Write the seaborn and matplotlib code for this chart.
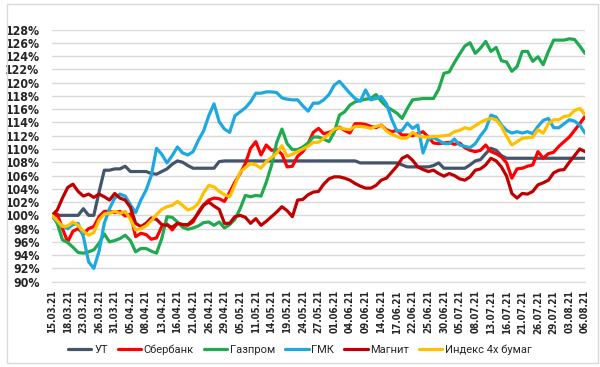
import numpy as np
import pandas as pd
import matplotlib
matplotlib.use("Agg")
import matplotlib.pyplot as plt
from matplotlib.patches import Rectangle
import seaborn as sns

# торговые дни 15.03.21 - 06.08.21 (без 03.05 и 10.05)
dates = pd.bdate_range("2021-03-15", "2021-08-06")
dates = dates[~dates.isin(pd.to_datetime(["2021-05-03", "2021-05-10"]))]
date_labels = dates.strftime("%d.%m.%y").tolist()

tick_labels = ["15.03.21", "18.03.21", "23.03.21", "26.03.21", "31.03.21", "05.04.21",
               "08.04.21", "13.04.21", "16.04.21", "21.04.21", "26.04.21", "29.04.21",
               "05.05.21", "11.05.21", "14.05.21", "19.05.21", "24.05.21", "27.05.21",
               "01.06.21", "04.06.21", "09.06.21", "14.06.21", "17.06.21", "22.06.21",
               "25.06.21", "30.06.21", "05.07.21", "08.07.21", "13.07.21", "16.07.21",
               "21.07.21", "26.07.21", "29.07.21", "03.08.21", "06.08.21"]

series_names = ["УТ", "Сбербанк", "Газпром", "ГМК", "Магнит", "Индекс 4х бумаг"]

ut = [100, 100, 100, 100, 100, 100, 101, 100, 100, 103.5,
      106.8, 106.8, 107.0, 107.0, 107.4, 106.6, 106.6, 106.6, 106.6, 106.3,
      106.2, 106.6, 107.0, 107.7, 108.2, 108.0, 107.5, 107.1, 107.1, 107.1,
      107.1, 107.1, 108.1, 108.2, 108.2, 108.2, 108.2, 108.2, 108.2, 108.2,
      108.2, 108.2, 108.2, 108.2, 108.2, 108.2, 108.2, 108.2, 108.2, 108.2,
      108.2, 108.2, 108.2, 108.2, 108.2, 108.2, 108.2, 108.2, 108.2, 107.9,
      107.9, 107.9, 107.9, 107.9, 107.9, 107.9, 107.9, 107.6, 107.3, 107.3,
      107.3, 107.3, 107.3, 107.5, 107.9, 107.1, 107.1, 107.1, 107.1, 107.1,
      107.6, 108.2, 108.4, 109.3, 110.1, 109.8, 109.0, 108.6, 108.6, 108.6,
      108.6, 108.6, 108.6, 108.6, 108.6, 108.6, 108.6, 108.6, 108.6, 108.6,
      108.6, 108.6, 108.6]

sber = [100, 100.2, 98.0, 96.0, 97.6, 98.0, 97.2, 98.0, 98.3, 99.8,
        100.6, 100.6, 100.4, 100.6, 99.9, 100.2, 96.8, 97.3, 97.1, 96.4,
        96.6, 98.3, 98.7, 97.8, 98.8, 98.6, 98.5, 99.0, 100.5, 101.6,
        102.3, 102.6, 102.5, 102.1, 103.5, 105.0, 106.3, 107.8, 110.1, 111.1,
        109.1, 110.6, 109.8, 109.9, 109.2, 107.3, 107.4, 108.9, 109.6, 110.8,
        112.5, 113.1, 112.3, 112.5, 112.8, 113.3, 112.8, 112.4, 113.8, 113.8,
        113.7, 113.4, 113.2, 113.6, 112.9, 112.6, 112.8, 112.1, 112.1, 112.0,
        112.3, 112.6, 111.8, 110.9, 110.8, 110.9, 111.0, 110.7, 110.9, 110.2,
        109.8, 109.6, 109.8, 110.6, 109.6, 109.3, 108.8, 107.9, 105.6, 107.0,
        107.1, 107.4, 107.6, 109.6, 108.6, 109.3, 109.5, 110.4, 111.1, 111.8,
        112.8, 113.8, 114.9]

gazprom = [100, 98.8, 96.3, 95.9, 95.2, 94.4, 94.3, 94.5, 94.8, 95.8,
           97.2, 96.0, 96.2, 96.5, 97.0, 96.2, 94.5, 95.0, 95.0, 94.6,
           94.3, 96.5, 99.8, 99.7, 99.0, 98.2, 97.9, 98.1, 98.4, 98.9,
           99.0, 98.5, 99.0, 98.1, 98.6, 99.4, 101.0, 103.0, 102.8, 103.0,
           102.9, 105.0, 107.5, 111.0, 113.0, 110.8, 109.9, 109.9, 110.3, 110.9,
           111.8, 111.8, 111.5, 111.1, 112.5, 115.1, 115.6, 116.6, 117.1, 117.3,
           117.5, 117.6, 118.2, 117.2, 116.4, 115.9, 115.4, 114.6, 116.1, 117.4,
           117.5, 117.6, 117.6, 117.6, 119.0, 121.4, 121.6, 123.0, 124.3, 125.5,
           126.0, 124.4, 125.2, 126.2, 124.7, 125.3, 123.3, 123.1, 121.7, 122.4,
           124.7, 124.7, 123.2, 123.9, 122.7, 124.7, 126.4, 126.4, 126.4, 126.6,
           126.5, 125.5, 124.4]

gmk = [100, 99.0, 98.4, 98.0, 98.6, 98.8, 96.8, 93.0, 92.0, 94.6,
       98.8, 101.0, 102.6, 103.2, 102.9, 101.6, 100.4, 102.3, 103.8, 106.0,
       110.1, 109.2, 107.9, 109.0, 110.3, 109.4, 109.1, 109.6, 111.3, 112.7,
       115.0, 116.8, 114.1, 113.0, 112.5, 115.0, 115.6, 116.2, 117.1, 118.4,
       118.4, 118.6, 118.6, 118.5, 117.7, 117.5, 117.4, 117.4, 116.5, 115.7,
       116.9, 116.9, 117.4, 118.2, 119.6, 120.2, 119.3, 118.4, 117.6, 117.2,
       118.9, 117.4, 117.6, 117.9, 116.8, 114.5, 112.7, 112.8, 113.9, 113.1,
       113.6, 109.4, 111.5, 111.7, 111.3, 110.8, 110.8, 111.5, 110.6, 110.4,
       110.2, 110.8, 112.0, 113.0, 115.1, 114.8, 113.6, 112.8, 112.4, 112.6,
       112.4, 112.6, 112.3, 113.4, 114.3, 114.6, 113.2, 113.2, 113.8, 114.4,
       114.2, 113.6, 112.4]

magnit = [100, 100.8, 102.6, 104.2, 104.7, 103.6, 102.9, 103.2, 102.7, 103.2,
          102.8, 102.3, 103.3, 102.6, 102.3, 101.2, 98.8, 98.3, 98.8, 99.6,
          99.4, 98.6, 98.5, 98.2, 98.8, 98.6, 98.6, 99.3, 100.3, 101.5,
          102.0, 101.4, 100.9, 98.8, 98.8, 99.8, 100.0, 99.7, 98.8, 99.5,
          98.5, 99.1, 99.8, 100.5, 101.3, 100.7, 99.8, 102.3, 102.4, 103.1,
          103.5, 103.6, 104.7, 105.5, 105.8, 105.8, 105.6, 105.3, 104.8, 104.4,
          104.1, 104.1, 104.5, 105.3, 105.6, 106.5, 107.4, 108.6, 109.0, 108.3,
          107.3, 106.9, 106.6, 106.8, 106.3, 105.9, 106.3, 106.0, 105.5, 105.3,
          105.8, 106.8, 107.0, 107.6, 108.6, 108.2, 107.3, 105.9, 103.3, 102.6,
          103.3, 103.2, 103.6, 104.6, 104.9, 105.3, 106.4, 106.8, 106.9, 108.0,
          109.0, 110.0, 109.6]

index4 = [100, 99.2, 98.3, 98.4, 99.0, 98.5, 97.6, 97.0, 97.4, 99.3,
          100.2, 100.3, 100.6, 100.3, 100.6, 99.4, 97.8, 98.0, 98.4, 99.2,
          100.1, 100.9, 101.3, 101.5, 102.1, 101.5, 100.8, 101.1, 101.8, 103.4,
          104.5, 104.3, 103.6, 103.1, 102.8, 104.6, 106.5, 107.2, 107.8, 107.6,
          107.1, 108.1, 108.7, 109.4, 110.5, 108.9, 109.2, 109.6, 110.0, 110.4,
          111.0, 111.0, 111.6, 112.2, 113.0, 113.2, 113.0, 112.9, 113.4, 113.4,
          113.3, 113.1, 113.4, 113.6, 112.7, 112.2, 111.9, 111.6, 111.7, 112.5,
          112.0, 111.8, 111.8, 111.9, 111.9, 112.0, 112.1, 112.6, 112.8, 113.2,
          113.0, 113.5, 114.0, 114.4, 114.6, 114.4, 113.4, 111.9, 110.6, 111.1,
          111.6, 111.7, 111.8, 112.9, 112.4, 113.8, 114.4, 114.4, 114.9, 115.0,
          115.8, 116.1, 115.2]

colors = ["#44546a", "#ff0000", "#1faa4f", "#1ea8e0", "#c00000", "#ffc000"]

frames = []
for name, vals in zip(series_names, [ut, sber, gazprom, gmk, magnit, index4]):
    frames.append(pd.DataFrame({"day": np.arange(len(date_labels)),
                                "date": date_labels, "value": vals, "series": name}))
df = pd.concat(frames, ignore_index=True)

sns.set_style("white")
fig = plt.figure(figsize=(6, 3.67), dpi=100)
ax = fig.add_axes([0.0867, 0.2324, 0.8883, 0.6872])

sns.lineplot(data=df, x="day", y="value", hue="series", hue_order=series_names,
             palette=colors, linewidth=2.3, ax=ax, legend=True)

ax.set_xlim(0, len(date_labels) - 1)
ax.set_ylim(90, 128)
ax.set_yticks(np.arange(90, 129, 2))
ax.set_yticklabels([f"{v}%" for v in range(90, 129, 2)],
                   fontsize=8.8, fontweight="bold", fontstretch="condensed")
tick_pos = [date_labels.index(t) for t in tick_labels]
ax.set_xticks(tick_pos)
ax.set_xticklabels(tick_labels, rotation=90, fontsize=7, fontweight="bold",
                   fontstretch="condensed")
ax.set_xlabel("")
ax.set_ylabel("")

ax.grid(axis="y", color="#d9d9d9", linewidth=1)
ax.set_axisbelow(True)
for s in ["top", "right", "left"]:
    ax.spines[s].set_visible(False)
ax.spines["bottom"].set_color("#d9d9d9")
ax.tick_params(axis="x", length=3, color="#d9d9d9", pad=3)
ax.tick_params(axis="y", length=0, pad=9)

handles, labels = ax.get_legend_handles_labels()
ax.get_legend().remove()
fig.legend(handles, labels, loc="center", bbox_to_anchor=(0.5, 0.046), ncol=6,
           frameon=False, handlelength=2.1, handletextpad=0.25, columnspacing=0.9,
           prop={"family": ["Roboto", "DejaVu Sans"], "size": 8})

fig.patches.append(Rectangle((0.011, 0.011), 0.985, 0.978, transform=fig.transFigure,
                             fill=False, edgecolor="#d9d9d9", linewidth=1))

fig.savefig("out.png", dpi=100)
